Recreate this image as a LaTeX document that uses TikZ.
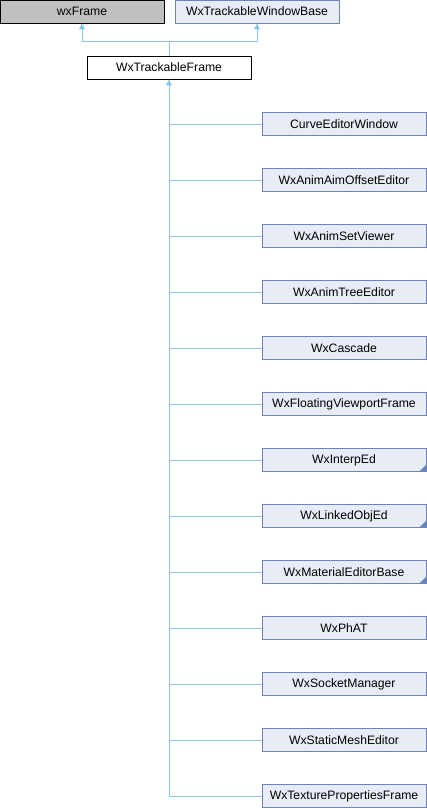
\documentclass[tikz,border=0pt]{standalone}
\usepackage{fontspec}
\setmainfont{Liberation Sans}
\usetikzlibrary{arrows.meta}
\definecolor{nodefill}{HTML}{E8ECF5}
\definecolor{nodeborder}{HTML}{6C84BD}
\definecolor{edgecol}{HTML}{8CC8E8}
\definecolor{grayfill}{HTML}{C0C0C0}
\begin{document}
\begin{tikzpicture}[x=1pt,y=-1pt,
  cls/.style={draw=nodeborder,fill=nodefill,line width=0.9pt,minimum width=164pt,minimum height=23pt,inner sep=0pt,font=\fontsize{12.2}{14}\selectfont},
  edge/.style={draw=edgecol,line width=0.9pt},
  arr/.style={edge,-{Triangle[width=6pt,length=6pt]}}
]
\useasboundingbox (0,0) rectangle (427,808);
\node[cls,draw=black,fill=grayfill] (wxf) at (82,11.5) {wxFrame};
\node[cls] (wtwb) at (257,11.5) {WxTrackableWindowBase};
\node[cls,draw=black,fill=white] (wtf) at (169,67.5) {WxTrackableFrame};
\coordinate (j) at (169,41);
\draw[arr] (j) -| (wxf.south);
\draw[arr] (j) -| (wtwb.south);
\draw[edge] (wtf.north) -- (j);
\foreach \n/\t [count=\i from 0] in {a/CurveEditorWindow,b/WxAnimAimOffsetEditor,c/WxAnimSetViewer,d/WxAnimTreeEditor,e/WxCascade,f/WxFloatingViewportFrame,g/WxInterpEd,h/WxLinkedObjEd,k/WxMaterialEditorBase,l/WxPhAT,m/WxSocketManager,n/WxStaticMeshEditor,o/WxTexturePropertiesFrame}{
  \node[cls] (\n) at (344,124+56*\i) {\t};
}
\foreach \n in {g,h,k}{
  \fill[nodeborder] ([xshift=-0.5pt,yshift=0.5pt]\n.south east) -- ++(-6.5pt,0) -- ++(6.5pt,6.5pt) -- cycle;
}
\coordinate (bot) at (169,796);
\draw[edge,{Triangle[width=6pt,length=6pt]}-] (wtf.south) -- (bot);
\foreach \n in {a,b,c,d,e,f,g,h,k,l,m,n,o}{
  \draw[edge] (wtf.south |- \n.west) -- (\n.west);
}
\end{tikzpicture}
\end{document}
